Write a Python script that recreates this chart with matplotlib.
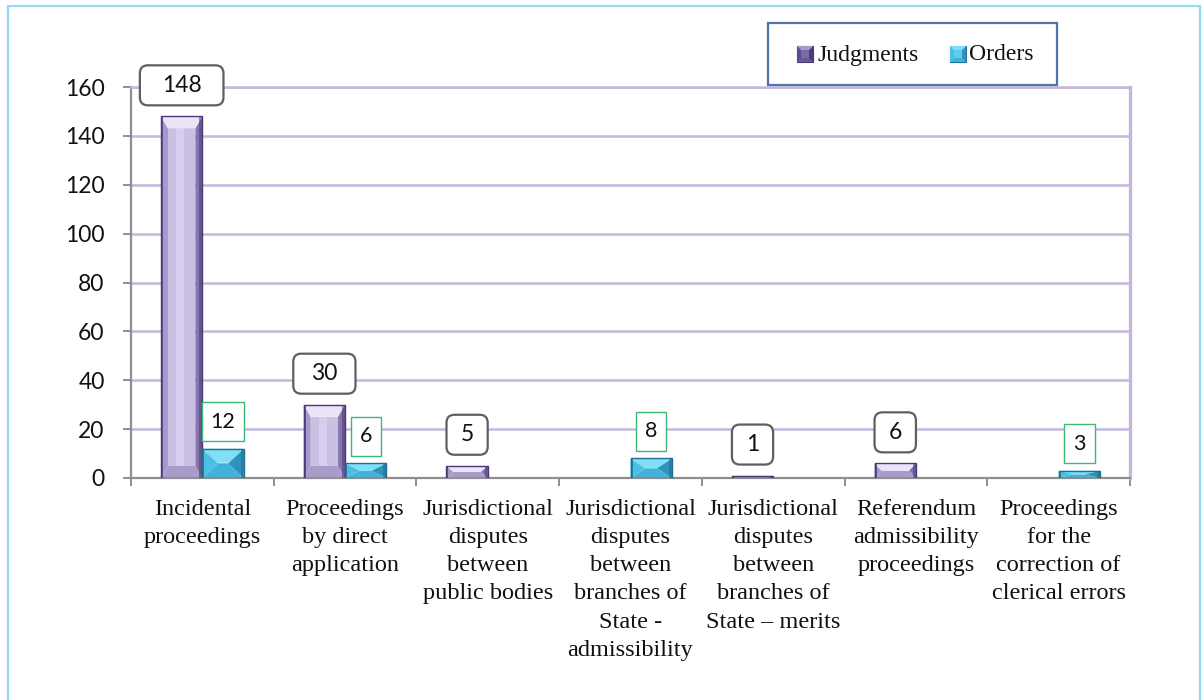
import matplotlib
matplotlib.use("Agg")
import matplotlib.pyplot as plt
from matplotlib.patches import Polygon, Rectangle, FancyBboxPatch

# ---- data ----
categories = [
    "Incidental\nproceedings",
    "Proceedings\nby direct\napplication",
    "Jurisdictional\ndisputes\nbetween\npublic bodies",
    "Jurisdictional\ndisputes\nbetween\nbranches of\nState -\nadmissibility",
    "Jurisdictional\ndisputes\nbetween\nbranches of\nState \u2013 merits",
    "Referendum\nadmissibility\nproceedings",
    "Proceedings\nfor the\ncorrection of\nclerical errors",
]
judgments = [148, 30, 5, 0, 1, 6, 0]
orders = [12, 6, 0, 8, 0, 0, 3]
series_names = ["Judgments", "Orders"]
y_ticks = [0, 20, 40, 60, 80, 100, 120, 140, 160]

# ---- styling ----
W, H = 1202, 700
NUM_FONT = "Lato"
TXT_FONT = "Liberation Serif"
GRID = "#c5b6dc"
AXIS_GREY = "#8e8e8e"

purple = dict(edge="#4a3a78", top="#ebe3f8", left="#a797cc", right="#8676ad",
              bottom="#a99bca", face="#cbbfe4", face2="#d7cdee", bev=(7, 12))
cyan = dict(edge="#1f6f90", top="#80def6", left="#4cbfe4", right="#2f92ba",
            bottom="#43b2d9", face="#5ccbec", face2="#5ccbec", bev=(15, 14))

fig = plt.figure(figsize=(W / 100, H / 100), dpi=100)
ax = fig.add_axes([131 / W, (H - 478) / H, (1130 - 131) / W, (478 - 87) / H])

n = len(categories)
xs = list(range(n))
ax.set_xlim(-0.5, n - 0.5)
ax.set_ylim(0, 160)

ax_w_px = 1130 - 131
ax_h_px = 478 - 87
dx = n / ax_w_px          # data units per pixel, x
dy = 160 / ax_h_px        # data units per pixel, y

bw = 0.29


def bevel(ax, x0, w, h, c):
    """Overlay bevelled faces on a bar of width w and height h."""
    w_px, h_px = w / dx, h / dy
    bxp, byp = c["bev"]
    bx = min(bxp, w_px / 2) * dx
    by = min(byp, h_px / 2) * dy
    x1, y0, y1 = x0 + w, 0, h
    fw = w - 2 * bx
    if fw > 0 and h - 2 * by > 0:
        ax.add_patch(Rectangle((x0 + bx, y0 + by), fw, h - 2 * by,
                               facecolor=c["face"], edgecolor="none", zorder=3))
        ax.add_patch(Rectangle((x0 + bx + fw * 0.3, y0 + by), fw * 0.3, h - 2 * by,
                               facecolor=c["face2"], edgecolor="none", zorder=3))
    polys = [
        ([(x0, y0), (x1, y0), (x1 - bx, y0 + by), (x0 + bx, y0 + by)], c["bottom"]),
        ([(x0, y0), (x0, y1), (x0 + bx, y1 - by), (x0 + bx, y0 + by)], c["left"]),
        ([(x1, y0), (x1, y1), (x1 - bx, y1 - by), (x1 - bx, y0 + by)], c["right"]),
        ([(x0, y1), (x1, y1), (x1 - bx, y1 - by), (x0 + bx, y1 - by)], c["top"]),
    ]
    for pts, col in polys:
        ax.add_patch(Polygon(pts, closed=True, facecolor=col, edgecolor="none", zorder=3))
    # thin dark rims on the outer sides
    ax.add_patch(Rectangle((x0, 0), 2 * dx, h, facecolor=c["edge"], edgecolor="none",
                           alpha=0.75, zorder=3))
    ax.add_patch(Rectangle((x1 - 3 * dx, 0), 3 * dx, h, facecolor=c["edge"], edgecolor="none",
                           alpha=0.55, zorder=3))


def draw_series(vals, offset, c):
    pos = [x + offset for x in xs]
    bars = ax.bar(pos, vals, bw, facecolor="none", edgecolor=c["edge"],
                  linewidth=1.0, zorder=4)
    for p, v in zip(bars.patches, vals):
        if v > 0:
            bevel(ax, p.get_x(), p.get_width(), p.get_height(), c)
        else:
            p.set_visible(False)
    return bars


bars_j = draw_series(judgments, -bw / 2, purple)
bars_o = draw_series(orders, bw / 2, cyan)

# ---- grid, spines, ticks ----
ax.set_yticks(y_ticks)
ax.yaxis.grid(True, color=GRID, linewidth=1.8, zorder=0)
ax.set_axisbelow(True)
for s in ("left", "bottom"):
    ax.spines[s].set_color(AXIS_GREY)
    ax.spines[s].set_linewidth(1.6)
ax.spines["top"].set_color(GRID)
ax.spines["top"].set_linewidth(1.8)
ax.spines["right"].set_color(GRID)
ax.spines["right"].set_linewidth(2.4)

ax.tick_params(axis="y", length=6, width=1.4, color=AXIS_GREY, pad=13,
               labelsize=16.5, labelcolor="#111111")
for lab in ax.get_yticklabels():
    lab.set_fontfamily(NUM_FONT)

ax.set_xticks(xs)
ax.set_xticklabels(categories, fontfamily=TXT_FONT, fontsize=17.5,
                   linespacing=1.45, color="#111111", va="top")
ax.set_xticks([x - 0.5 for x in range(n + 1)], minor=True)
ax.tick_params(axis="x", which="major", length=0, pad=15)
ax.tick_params(axis="x", which="minor", length=6, width=1.4, color=AXIS_GREY)

# ---- value labels ----
fig.canvas.draw()
renderer = fig.canvas.get_renderer()


def value_label(xc, v, gap_px, size, round_box, scale_w, pad_w, box_h, edge):
    yc = v + gap_px * dy
    t = ax.text(xc, yc, str(v), ha="center", va="center", fontsize=size,
                fontfamily=NUM_FONT, color="#111111", zorder=7, clip_on=False)
    ext = t.get_window_extent(renderer)
    wpx = ext.width * scale_w + pad_w
    bwd, bhd = wpx * dx, box_h * dy
    if round_box:
        box = FancyBboxPatch((xc - bwd / 2, yc - bhd / 2), bwd, bhd,
                             boxstyle="round,pad=0,rounding_size=%f" % (8 * dx),
                             mutation_aspect=dy / dx,
                             facecolor="white", edgecolor=edge, linewidth=1.6,
                             zorder=6, clip_on=False)
    else:
        box = Rectangle((xc - bwd / 2, yc - bhd / 2), bwd, bhd,
                        facecolor="white", edgecolor=edge, linewidth=1.0, zorder=6,
                        clip_on=False)
    ax.add_patch(box)


for x, v in zip(xs, judgments):
    if v > 0:
        value_label(x - bw / 2, v, 31, 16.5, True, 1.6, 20, 40, "#5f5f5f")
for x, v in zip(xs, orders):
    if v > 0:
        value_label(x + bw / 2, v, 27, 15.5, False, 1.0, 18, 39, "#3cb878")

# ---- legend ----
def fx(x):
    return x / W


def fy(y):
    return 1 - y / H


fig.patches.append(Rectangle((fx(768), fy(85)), (1057 - 768) / W, (85 - 23) / H,
                             transform=fig.transFigure, facecolor="white",
                             edgecolor="#4f74a9", linewidth=1.6, zorder=5))


def legend_marker(x0, c):
    s = 16
    b = 4
    y0 = 46
    pts_sets = [
        ([(x0, y0 + s), (x0 + s, y0 + s), (x0 + s - b, y0 + s - b), (x0 + b, y0 + s - b)], c["bottom"]),
        ([(x0, y0), (x0, y0 + s), (x0 + b, y0 + s - b), (x0 + b, y0 + b)], c["left"]),
        ([(x0 + s, y0), (x0 + s, y0 + s), (x0 + s - b, y0 + s - b), (x0 + s - b, y0 + b)], c["right"]),
        ([(x0, y0), (x0 + s, y0), (x0 + s - b, y0 + b), (x0 + b, y0 + b)], c["top"]),
    ]
    fig.patches.append(Rectangle((fx(x0), fy(y0 + s)), s / W, s / H,
                                 transform=fig.transFigure, facecolor=c["face"],
                                 edgecolor=c["edge"], linewidth=0.8, zorder=6))
    for pts, col in pts_sets:
        fig.patches.append(Polygon([(fx(a), fy(b_)) for a, b_ in pts], closed=True,
                                   transform=fig.transFigure, facecolor=col,
                                   edgecolor="none", zorder=6))


legend_dark = dict(purple, face="#7d6aa8", left="#5e4c8c", right="#4a3a74",
                   bottom="#6a5896", top="#a898cc")
legend_marker(797, legend_dark)
legend_marker(950, cyan)
fig.text(fx(818), fy(55), series_names[0], fontfamily=TXT_FONT, fontsize=17,
         va="center", ha="left", color="#111111", zorder=7)
fig.text(fx(969), fy(55), series_names[1], fontfamily=TXT_FONT, fontsize=17,
         va="center", ha="left", color="#111111", zorder=7)

# ---- outer frame ----
fig.patches.append(Rectangle((fx(8), fy(720)), (1200 - 8) / W, (720 - 6) / H,
                             transform=fig.transFigure, facecolor="none",
                             edgecolor="#93def6", linewidth=1.6, zorder=1))

fig.savefig("out.png", dpi=100)
